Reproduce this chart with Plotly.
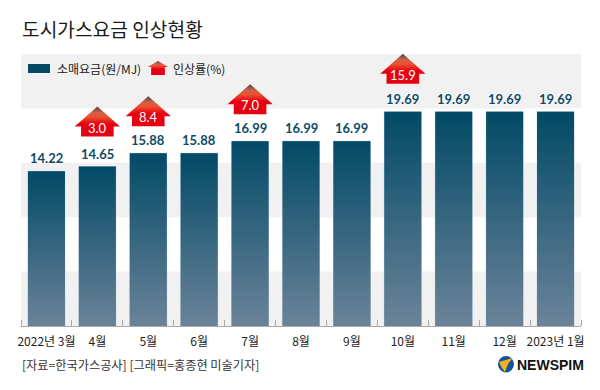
import plotly.graph_objects as go

categories = ["2022년 3월", "4월", "5월", "6월", "7월", "8월", "9월", "10월", "11월", "12월", "2023년 1월"]
prices = [14.22, 14.65, 15.88, 15.88, 16.99, 16.99, 16.99, 19.69, 19.69, 19.69, 19.69]
rise_months = [1, 2, 4, 7]
rise_rates = ["3.0", "8.4", "7.0", "15.9"]

KR = "Noto Sans CJK KR"
W, H = 600, 390
L, R, T, B = 21, 581, 54, 326
Y_MAX = 25
UX = (R - L) / 11
UY = (B - T) / Y_MAX
px = lambda x: (x - L) / UX - 0.5
py = lambda y: (B - y) / UY
lx = lambda x: (x - L) / (R - L)
ly = lambda y: (B - y) / (B - T)

BAR_SCALE = [[0, "#6b8399"], [1, "#024a66"]]
ARROW_SCALE = [[0, "#e60012"], [0.42, "#e60012"], [0.66, "#ec5232"], [0.8, "#cf6048"], [1, "#4a4843"]]
HALF = 0.363

fig = go.Figure()
annotations = []

# value bars
fig.add_trace(go.Bar(
    x=list(range(len(prices))), y=prices, width=2 * HALF,
    marker=dict(color="#2f5f7a", line=dict(color="#b9d0dc", width=0.6)),
    cliponaxis=False, hoverinfo="skip", showlegend=False,
))
for i, v in enumerate(prices):
    fig.add_trace(go.Scatter(
        x=[i - HALF, i + HALF, i + HALF, i - HALF, i - HALF], y=[0, 0, v, v, 0],
        mode="none", fill="toself",
        fillgradient=dict(type="vertical", colorscale=BAR_SCALE),
        hoverinfo="skip", showlegend=False,
    ))
    annotations.append(dict(x=i, y=v, xref="x", yref="y", text=f"{v:.2f}", showarrow=False,
                            yanchor="middle", yshift=13,
                            font=dict(family="Lato", size=13, color="#0e4a66", weight=700,
                                      shadow="0 0 2px #fff, 0 0 2px #fff, 0 0 3px #fff")))


def arrow(cx, bottom, top, wing_y, wing, body):
    xs = [cx - body, cx - body, cx - wing, cx, cx + wing, cx + body, cx + body, cx - body]
    ys = [py(bottom), py(wing_y), py(wing_y), py(top), py(wing_y), py(wing_y), py(bottom), py(bottom)]
    fig.add_trace(go.Scatter(
        x=xs, y=ys, mode="none", fill="toself",
        fillgradient=dict(type="vertical", colorscale=ARROW_SCALE),
        hoverinfo="skip", showlegend=False,
    ))


for m, r in zip(rise_months, rise_rates):
    top_px = B - prices[m] * UY
    gap = 28 if m == 7 else 30 if m == 1 else 27
    bottom = top_px - gap
    arrow(m, bottom, bottom - 30, bottom - 10, 0.445, 0.32)
    annotations.append(dict(x=m, y=py(bottom - 9), xref="x", yref="y", text=r, showarrow=False,
                            font=dict(family="Lato", size=13, color="#ffffff")))

# legend arrow
arrow(px(158), 75, 61, 67, 0.2, 0.135)


def label(x, y, text, size, color="#222222", anchor="left", family=KR, weight=400):
    annotations.append(dict(x=lx(x), y=ly(y), xref="paper", yref="paper",
                            text=text, showarrow=False, xanchor=anchor, yanchor="middle",
                            xshift=-1, font=dict(family=family, size=size, color=color, weight=weight)))


label(21, 29, "도시가스요금 인상현황", 19.2, "#1a1a1a")
label(56, 68, "소매요금(원/MJ)", 12)
label(172, 68, "인상률(%)", 12)
label(21, 365, "[자료=한국가스공사] [그래픽=홍종현 미술기자]", 12.2, "#333333")
label(516, 365, "NEWSPIM", 14, "#111111", family="Liberation Sans", weight=700)

shapes = [dict(type="rect", xref="paper", yref="y", x0=0, x1=1, y0=a, y1=a + 5,
               fillcolor="#f1f1f1", line_width=0, layer="below") for a in (0, 10, 20)]
shapes.append(dict(type="rect", xref="x", yref="y", x0=px(28), x1=px(50), y0=py(73), y1=py(64),
                   fillcolor="#064a66", line_width=0))
# logo
shapes.append(dict(type="circle", xref="paper", yref="paper",
                   x0=lx(498), x1=lx(514), y0=ly(372.5), y1=ly(356),
                   fillcolor="#14549c", line_width=0, layer="above"))
shapes.append(dict(type="path", xref="paper", yref="paper", layer="above", line_width=0, fillcolor="#f5b21a",
                   path=f"M {lx(512.5)} {ly(358)} L {lx(499)} {ly(362)} L {lx(502)} {ly(368)} "
                        f"L {lx(505)} {ly(372)} L {lx(508)} {ly(364)} Z"))

fig.update_layout(
    width=W, height=H, autosize=False, paper_bgcolor="#ffffff", plot_bgcolor="#ffffff",
    margin=dict(l=L, r=W - R, t=T, b=H - B), barmode="overlay",
    showlegend=False, shapes=shapes, annotations=annotations,
    xaxis=dict(type="linear", range=[-0.5, 10.5], tickmode="array",
               tickvals=list(range(len(categories))), ticktext=categories, ticks="",
               tickfont=dict(family=KR, size=12, color="#222222"), ticklabelstandoff=5,
               showgrid=False, zeroline=False, showline=True, linecolor="#aaaaaa", linewidth=1,
               minor=dict(tickmode="array", tickvals=[i - 0.5 for i in range(len(categories) + 1)],
                          ticks="inside", ticklen=6, tickcolor="#aaaaaa", tickwidth=1, showgrid=False)),
    yaxis=dict(range=[0, Y_MAX], visible=False, showgrid=False, zeroline=False),
)
fig.write_html("out.html", config={"displayModeBar": False},
               post_script="document.body.style.margin='0';")
